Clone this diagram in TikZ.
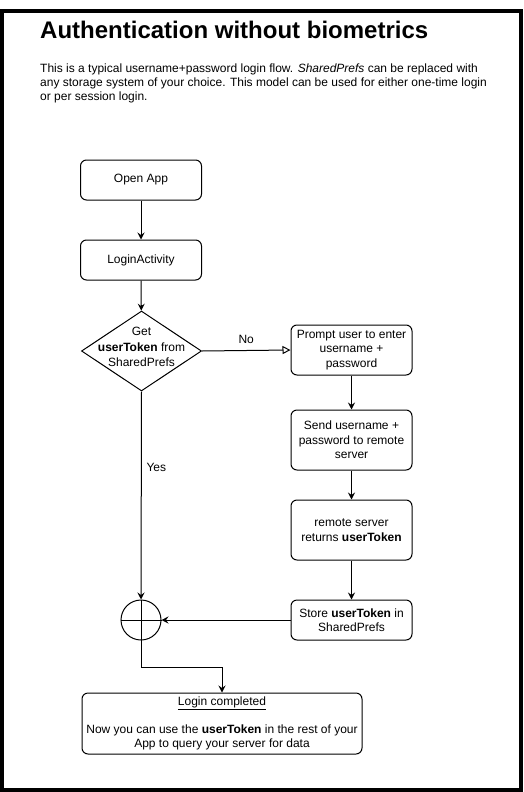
\documentclass[tikz,border=0pt]{standalone}
\usepackage{fontspec}
\setmainfont{Liberation Sans}
\usetikzlibrary{arrows.meta,shapes.geometric}
\begin{document}
\begin{tikzpicture}[x=1pt,y=-1pt,
  txt/.style={font=\fontsize{12}{14.5}\selectfont},
  box/.style={draw,line width=1pt,rounded corners=6pt,minimum width=121pt,minimum height=#1,align=center,txt,inner sep=2pt},
  box/.default=40pt,
  arr/.style={draw,line width=1pt,-{Stealth[length=7pt,width=7pt,inset=2.5pt]}},
  openarr/.style={draw,line width=1pt,-{Triangle[open,length=8pt,width=8pt]}},
  lbl/.style={txt,inner sep=0pt}
]
\useasboundingbox (0,0) rectangle (523,792);
\draw[line width=4pt] (1.5,11) rectangle (521,789.5);

\node[anchor=base west,inner sep=0pt,font=\fontsize{24}{28}\selectfont\bfseries] (title) at (40,39) {Authentication without biometrics};
\node[anchor=base west,lbl] (d1) at (40,72) {This is a typical username+password login flow. \textit{SharedPrefs} can be replaced with};
\node[anchor=base west,lbl] (d2) at (40,86) {any storage system of your choice. This model can be used for either one-time login};
\node[anchor=base west,lbl] (d3) at (40,100) {or per session login.};

\node[box] (open) at (141,180) {Open App};
\node[box] (login) at (141,260) {LoginActivity};
\node[draw,diamond,line width=1pt,minimum width=120pt,minimum height=80pt,inner sep=0pt] (dec) at (141.5,351) {};
\node[txt,align=center,inner sep=0pt,font=\fontsize{12}{15.5}\selectfont] (dectext) at (141.5,347) {Get\\\textbf{userToken} from\\SharedPrefs};

\node[box=50pt] (prompt) at (351.5,350) {Prompt user to enter\\username +\\password};
\node[box=60pt] (send) at (351.5,440) {Send username +\\password to remote\\server};
\node[box=60pt] (remote) at (351.5,530) {remote server\\returns \textbf{userToken}};
\node[box] (store) at (351.5,620) {Store \textbf{userToken} in\\SharedPrefs};
\node[draw,circle,line width=1pt,minimum size=40pt,inner sep=0pt] (circ) at (141,620) {};
\draw[line width=1pt] (circ.north) -- (circ.south) (circ.west) -- (circ.east);

\node[box=61pt,minimum width=280pt,font=\fontsize{12}{14}\selectfont] (final) at (222,723.5) {\underline{Login completed}\\[14pt]Now you can use the \textbf{userToken} in the rest of your\\App to query your server for data};

\draw[arr] (open) -- (login);
\draw[arr] (login) -- (dec);
\draw[openarr] (dec.east) -- (prompt.west) node[lbl,midway,yshift=11pt] (no) {No};
\draw[arr] (dec.south) -- (circ.north) node[lbl,pos=0.364,xshift=15pt] (yes) {Yes};
\draw[arr] (prompt) -- (send);
\draw[arr] (send) -- (remote);
\draw[arr] (remote) -- (store);
\draw[arr] (store) -- (circ);
\draw[arr] (circ.south) -- ++(0,27) -| (final.north);
\end{tikzpicture}
\end{document}
